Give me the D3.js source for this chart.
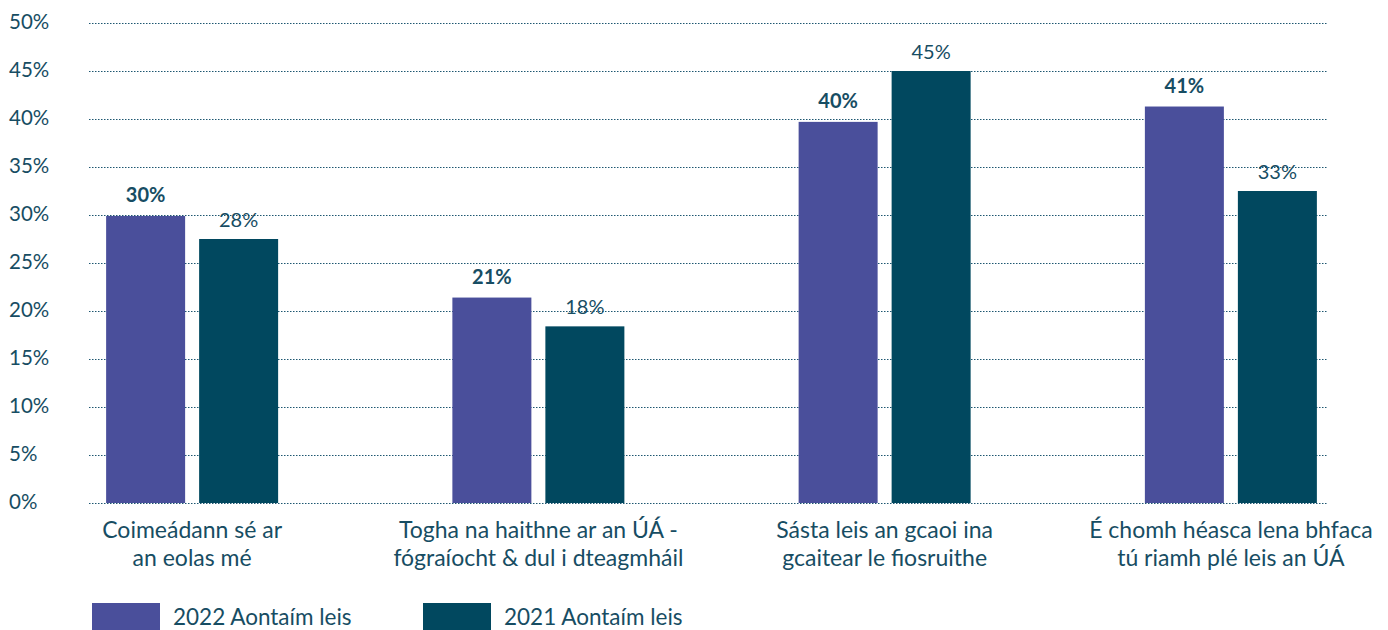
<!DOCTYPE html>
<html>
<head>
<meta charset="utf-8">
<script src="https://cdn.jsdelivr.net/npm/d3@7"></script>
<style>
  body { margin: 0; background: #fff; }
  svg text { font-family: Lato, "Open Sans", sans-serif; fill: #174d63; }
</style>
</head>
<body>
<svg id="chart" width="1388" height="630"></svg>
<script>
// categories (two-line labels)
const categories = [
    ["Coimeádann sé ar", "an eolas mé"],
    ["Togha na haithne ar an ÚÁ -", "fógraíocht & dul i dteagmháil"],
    ["Sásta leis an gcaoi ina", "gcaitear le fiosruithe"],
    ["É chomh héasca lena bhfaca", "tú riamh plé leis an ÚÁ"]
];
const seriesNames = ["2022 Aontaím leis", "2021 Aontaím leis"];
const values2022 = [29.9, 21.4, 39.7, 41.3];
const values2021 = [27.5, 18.4, 45.0, 32.5];
const yTicks = [0, 5, 10, 15, 20, 25, 30, 35, 40, 45, 50];

const colors = ["#4a4f9b", "#01485f"];

const svg = d3.select("#chart");

// scales
const y = d3.scaleLinear().domain([0, 50]).range([503, 23]);
const x0 = d3.scaleBand()
    .domain(d3.range(categories.length))
    .range([19, 1404]);
const x1 = d3.scaleBand()
    .domain([0, 1])
    .range([-86, 86])
    .paddingInner(0.1505);

// gridlines
svg.append("g")
    .selectAll("line")
    .data(yTicks)
    .enter().append("line")
    .attr("x1", 89)
    .attr("x2", 1327)
    .attr("y1", d => y(d) + 0.5)
    .attr("y2", d => y(d) + 0.5)
    .attr("stroke", "#1d5670")
    .attr("stroke-width", 1)
    .attr("stroke-dasharray", "1.5,1.5");

// y tick labels
svg.append("g")
    .selectAll("text")
    .data(yTicks)
    .enter().append("text")
    .attr("x", 9)
    .attr("y", d => y(d) + 6)
    .attr("font-size", 20.5)
    .text(d => d + "%");

// bars
const rows = categories.map((c, i) => [values2022[i], values2021[i]]);
const groups = svg.append("g")
    .selectAll("g")
    .data(rows)
    .enter().append("g")
    .attr("transform", (d, i) => `translate(${x0(i) + x0.bandwidth() / 2},0)`);

groups.selectAll("rect")
    .data(d => d)
    .enter().append("rect")
    .attr("x", (d, j) => x1(j))
    .attr("width", x1.bandwidth())
    .attr("y", d => y(d))
    .attr("height", d => y(0) - y(d))
    .attr("fill", (d, j) => colors[j]);

groups.selectAll("text.val")
    .data(d => d)
    .enter().append("text")
    .attr("class", "val")
    .attr("x", (d, j) => x1(j) + x1.bandwidth() / 2)
    .attr("y", (d, j) => y(d) - (j === 0 ? 14 : 12))
    .attr("text-anchor", "middle")
    .attr("font-size", 20)
    .attr("font-weight", (d, j) => j === 0 ? "bold" : "normal")
    .text(d => Math.round(d) + "%");

// category labels
const labels = svg.append("g")
    .selectAll("text")
    .data(categories)
    .enter().append("text")
    .attr("text-anchor", "middle")
    .attr("font-size", 23)
    .attr("transform", (d, i) => `translate(${x0(i) + x0.bandwidth() / 2},0)`);

labels.selectAll("tspan")
    .data(d => d)
    .enter().append("tspan")
    .attr("x", 0)
    .attr("y", (d, k) => 538 + k * 28)
    .text(d => d);

// legend
const legend = svg.append("g")
    .selectAll("g")
    .data(seriesNames)
    .enter().append("g")
    .attr("transform", (d, i) => `translate(${92 + i * 331},0)`);

legend.append("rect")
    .attr("x", 0)
    .attr("y", 603)
    .attr("width", 68)
    .attr("height", 27)
    .attr("fill", (d, i) => colors[i]);

legend.append("text")
    .attr("x", 81)
    .attr("y", 625)
    .attr("font-size", 22.5)
    .text(d => d);
</script>
</body>
</html>
